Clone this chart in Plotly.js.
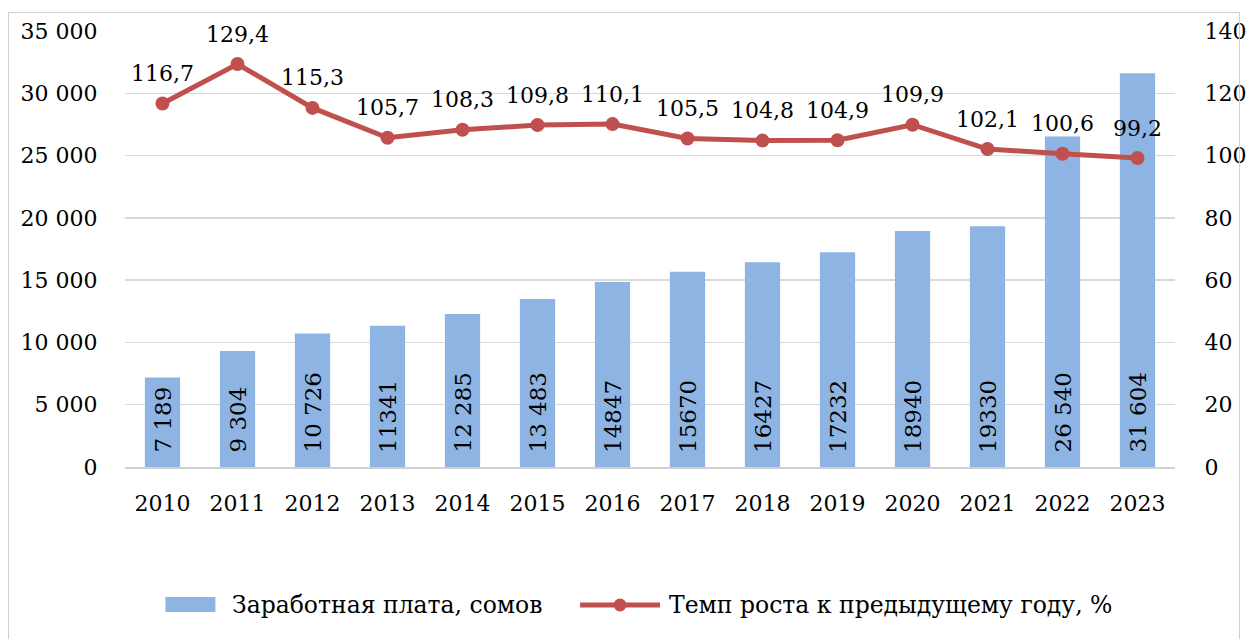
<!DOCTYPE html>
<html><head><meta charset="utf-8">
<script src="https://cdn.plot.ly/plotly-3.0.1.min.js"></script>
<style>
html,body{margin:0;padding:0;background:#fff;}
#frame{position:absolute;left:8px;top:12px;width:1232px;height:640px;border:1.5px solid #d0d0d0;box-sizing:border-box;pointer-events:none;}
#chart{width:1248px;height:639px;}
</style></head>
<body>
<div id="chart"></div>
<div id="frame"></div>
<script>
const years = ['2010','2011','2012','2013','2014','2015','2016','2017','2018','2019','2020','2021','2022','2023'];
const salary = [7189, 9304, 10726, 11341, 12285, 13483, 14847, 15670, 16427, 17232, 18940, 19330, 26540, 31604];
const salaryLabels = ['7 189','9 304','10 726','11341','12 285','13 483','14847','15670','16427','17232','18940','19330','26 540','31 604'];
const growth = [116.7, 129.4, 115.3, 105.7, 108.3, 109.8, 110.1, 105.5, 104.8, 104.9, 109.9, 102.1, 100.6, 99.2];
const growthLabels = ['116,7','129,4','115,3','105,7','108,3','109,8','110,1','105,5','104,8','104,9','109,9','102,1','100,6','99,2'];
const leftTicks = [0,5000,10000,15000,20000,25000,30000,35000];
const leftTickText = ['0','5 000','10 000','15 000','20 000','25 000','30 000','35 000'];
const rightTicks = [0,20,40,60,80,100,120,140];
const legendNames = ['Заработная плата, сомов','Темп роста к предыдущему году, %'];

const FONT = 'DejaVu Serif';
const BAR = '#8eb4e3', LINE = '#c0504d';

const traces = [
  {
    type:'bar', x:years, y:salary, name:legendNames[0],
    marker:{color:BAR},
    hoverinfo:'skip', showlegend:false
  },
  {
    type:'scatter', mode:'lines+markers', x:years, y:growth, yaxis:'y2',
    name:legendNames[1],
    line:{color:LINE, width:5},
    marker:{color:LINE, size:14},
    cliponaxis:false, hoverinfo:'skip', showlegend:false
  }
];

const annotations = [];
// bar value labels (vertical, near bar base)
salary.forEach((v,i)=>annotations.push({
  x:i, y:0, xref:'x', yref:'y', text:salaryLabels[i], showarrow:false, textangle:-90,
  xanchor:'center', yanchor:'bottom', yshift:12,
  font:{family:FONT, size:23, color:'#000'}
}));
// growth labels above points
growth.forEach((v,i)=>annotations.push({
  x:i, y:v, xref:'x', yref:'y2', text:growthLabels[i], showarrow:false,
  yshift:30, xanchor:'center', yanchor:'middle',
  font:{family:FONT, size:22, color:'#000'}
}));
// legend texts
annotations.push({xref:'paper', yref:'paper', x:0.1004, y:-0.3165, xanchor:'left', yanchor:'middle',
  text:legendNames[0], showarrow:false, font:{family:FONT, size:23.5, color:'#000'}});
annotations.push({xref:'paper', yref:'paper', x:0.5162, y:-0.3165, xanchor:'left', yanchor:'middle',
  text:legendNames[1], showarrow:false, font:{family:FONT, size:23.5, color:'#000'}});

const shapes = [
  {type:'rect', xref:'paper', yref:'paper', x0:0.0385, x1:0.0861, y0:-0.3326, y1:-0.2982, fillcolor:BAR, line:{width:0}},
  {type:'line', xref:'paper', yref:'paper', x0:0.4334, x1:0.5095, y0:-0.3165, y1:-0.3165, line:{color:LINE, width:5}},
  {type:'circle', xref:'paper', yref:'paper', x0:0.4653, x1:0.4776, y0:-0.3314, y1:-0.3016, fillcolor:LINE, line:{width:0}}
];

const layout = {
  width:1248, height:639,
  margin:{l:124.5, r:72.5, t:31, b:172},
  paper_bgcolor:'#fff', plot_bgcolor:'#fff',
  font:{family:FONT, size:22, color:'#000'},
  bargap:0.53,
  showlegend:false,
  annotations:annotations,
  shapes:shapes,
  xaxis:{type:'category', range:[-0.5,13.5], showgrid:false, zeroline:false, showline:true, linecolor:'#d0d0d0', linewidth:1.5,
         ticks:'outside', ticklen:16, tickcolor:'rgba(0,0,0,0)', tickfont:{family:FONT, size:22}},
  yaxis:{range:[0,35000], tickvals:leftTicks, ticktext:leftTickText, showgrid:true, gridcolor:'#d9d9d9', gridwidth:1.5,
         zeroline:false, showline:false, ticks:'outside', ticklen:22, tickcolor:'rgba(0,0,0,0)',
         tickfont:{family:FONT, size:22}},
  yaxis2:{range:[0,140], overlaying:'y', side:'right', tickvals:rightTicks, showgrid:false, zeroline:false,
          showline:false, ticks:'outside', ticklen:24, tickcolor:'rgba(0,0,0,0)', tickfont:{family:FONT, size:22}}
};

Plotly.newPlot('chart', traces, layout, {displayModeBar:false, staticPlot:true});
</script>
</body></html>
